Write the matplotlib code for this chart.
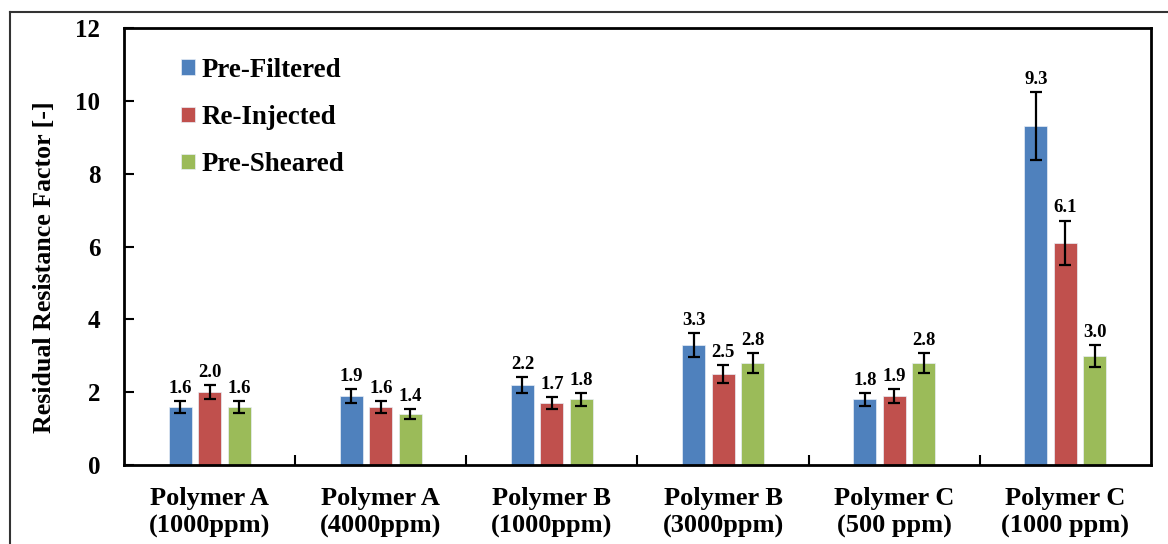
import matplotlib
matplotlib.use("Agg")
import matplotlib.pyplot as plt
from matplotlib.lines import Line2D
import numpy as np

plt.rcParams["font.family"] = "Liberation Serif"
plt.rcParams["font.weight"] = "bold"

categories = ["Polymer A\n(1000ppm)", "Polymer A\n(4000ppm)", "Polymer B\n(1000ppm)",
              "Polymer B\n(3000ppm)", "Polymer C\n(500 ppm)", "Polymer C\n(1000 ppm)"]
series = ["Pre-Filtered", "Re-Injected", "Pre-Sheared"]
colors = ["#4F81BD", "#C0504D", "#9BBB59"]

pre_filtered = [1.6, 1.9, 2.2, 3.3, 1.8, 9.3]
re_injected = [2.0, 1.6, 1.7, 2.5, 1.9, 6.1]
pre_sheared = [1.6, 1.4, 1.8, 2.8, 2.8, 3.0]

pre_filtered_err = [0.16, 0.19, 0.22, 0.33, 0.18, 0.93]
re_injected_err = [0.20, 0.16, 0.17, 0.25, 0.19, 0.61]
pre_sheared_err = [0.16, 0.14, 0.18, 0.28, 0.28, 0.30]

values = [pre_filtered, re_injected, pre_sheared]
errors = [pre_filtered_err, re_injected_err, pre_sheared_err]

fig = plt.figure(figsize=(11.68, 5.44), dpi=100)
ax = fig.add_axes([0.1062, 0.1452, 0.8792, 0.8033])

x = np.arange(len(categories))
step = 0.172
width = 0.135

for i, (name, vals, errs, col) in enumerate(zip(series, values, errors, colors)):
    pos = x + (i - 1) * step
    ax.bar(pos, vals, width, color=col, label=name, edgecolor="#e8eef6", linewidth=0.5, zorder=2)
    ax.errorbar(pos, vals, yerr=errs, fmt="none", ecolor="black", elinewidth=1.6,
                capsize=4, capthick=1.6, zorder=3)
    for p, v, e in zip(pos, vals, errs):
        ax.annotate(f"{v:.1f}", (p, v + e), xytext=(0, 3), textcoords="offset points",
                    ha="center", va="bottom", fontsize=13.5, fontweight="bold")

ax.set_xlim(-0.5, len(categories) - 0.5)
ax.set_ylim(0, 12)
ax.set_yticks(np.arange(0, 13, 2))
ax.set_xticks(x)
ax.set_xticklabels(categories, fontsize=19, fontweight="bold", linespacing=1.25)
ax.set_xticks(x[:-1] + 0.5, minor=True)
ax.tick_params(axis="x", which="major", length=0, pad=16)
ax.tick_params(axis="x", which="minor", direction="in", length=7, width=1.5)
ax.tick_params(axis="y", direction="in", length=7, width=1.5, labelsize=18, pad=17)
for s in ax.spines.values():
    s.set_linewidth(2)

ax.set_ylabel("Residual Resistance Factor [-]", fontsize=18.6, fontweight="bold")
ax.yaxis.set_label_coords(-0.066, 0.453)

ax.legend(loc="upper left", bbox_to_anchor=(0.045, 0.957), frameon=False, fontsize=19.4,
          handlelength=0.5, handleheight=0.5, handletextpad=0.25, labelspacing=0.83,
          borderaxespad=0)

# outer frame lines along the top and left edges
fig.add_artist(Line2D([10 / 1168, 1.0], [1 - 12 / 544, 1 - 12 / 544], color="#333333", lw=1.5))
fig.add_artist(Line2D([10 / 1168, 10 / 1168], [0, 1 - 12 / 544], color="#333333", lw=1.5))

fig.savefig("out.png", dpi=100)
